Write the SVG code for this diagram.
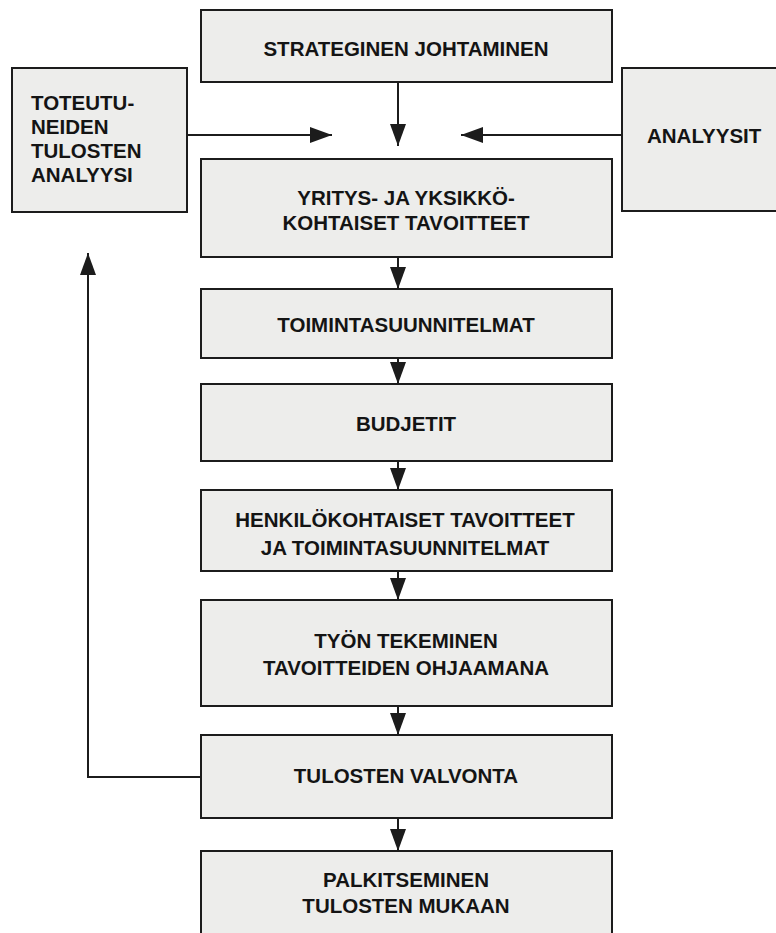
<svg xmlns="http://www.w3.org/2000/svg" width="776" height="933" viewBox="0 0 776 933">
<defs>
<style>
.box{fill:#ededeb;stroke:#1c1c1c;stroke-width:2}
.t{font-family:"Liberation Sans",Arial,sans-serif;font-weight:bold;font-size:20.5px;fill:#141414}
.c{text-anchor:middle}
.ln{fill:none;stroke:#1c1c1c;stroke-width:2}
</style>
<marker id="ah" markerUnits="userSpaceOnUse" markerWidth="22" markerHeight="16" refX="22" refY="8" orient="auto" viewBox="0 0 22 16">
<path d="M0,0 L22,8 L0,16 z" fill="#1c1c1c"/>
</marker>
</defs>
<rect width="776" height="933" fill="#ffffff"/>
<g id="connectors">
<line class="ln" x1="398" y1="82" x2="398" y2="146" marker-end="url(#ah)"/>
<line class="ln" x1="187" y1="135" x2="332" y2="135" marker-end="url(#ah)"/>
<line class="ln" x1="622" y1="135" x2="461" y2="135" marker-end="url(#ah)"/>
<line class="ln" x1="398" y1="257" x2="398" y2="289" marker-end="url(#ah)"/>
<line class="ln" x1="398" y1="358" x2="398" y2="384" marker-end="url(#ah)"/>
<line class="ln" x1="398" y1="461" x2="398" y2="490" marker-end="url(#ah)"/>
<line class="ln" x1="398" y1="571" x2="398" y2="600" marker-end="url(#ah)"/>
<line class="ln" x1="398" y1="706" x2="398" y2="735" marker-end="url(#ah)"/>
<line class="ln" x1="398" y1="818" x2="398" y2="851" marker-end="url(#ah)"/>
<polyline class="ln" points="201,777 88,777 88,253" marker-end="url(#ah)"/>
</g>
<g id="n-strateginen">
<rect class="box" x="201" y="10" width="411" height="72"/>
<text class="t c" x="406" y="56">STRATEGINEN JOHTAMINEN</text>
</g>
<g id="n-toteutuneiden">
<rect class="box" x="12" y="68" width="175" height="144"/>
<text class="t" x="31" y="110">TOTEUTU-</text>
<text class="t" x="31" y="134">NEIDEN</text>
<text class="t" x="31" y="158">TULOSTEN</text>
<text class="t" x="31" y="182">ANALYYSI</text>
</g>
<g id="n-analyysit">
<rect class="box" x="622" y="68" width="170" height="143"/>
<text class="t" x="647" y="143">ANALYYSIT</text>
</g>
<g id="n-yritys">
<rect class="box" x="201" y="159" width="411" height="98"/>
<text class="t c" x="406" y="205">YRITYS- JA YKSIKKÖ-</text>
<text class="t c" x="406" y="230">KOHTAISET TAVOITTEET</text>
</g>
<g id="n-toimintasuunnitelmat">
<rect class="box" x="201" y="289" width="411" height="69"/>
<text class="t c" x="406" y="332">TOIMINTASUUNNITELMAT</text>
</g>
<g id="n-budjetit">
<rect class="box" x="201" y="384" width="411" height="77"/>
<text class="t c" x="406" y="431">BUDJETIT</text>
</g>
<g id="n-henkilokohtaiset">
<rect class="box" x="201" y="490" width="411" height="81"/>
<text class="t c" x="405" y="527">HENKILÖKOHTAISET TAVOITTEET</text>
<text class="t c" x="405" y="555">JA TOIMINTASUUNNITELMAT</text>
</g>
<g id="n-tyon">
<rect class="box" x="201" y="600" width="411" height="106"/>
<text class="t c" x="406" y="648">TYÖN TEKEMINEN</text>
<text class="t c" x="406" y="675">TAVOITTEIDEN OHJAAMANA</text>
</g>
<g id="n-valvonta">
<rect class="box" x="201" y="735" width="411" height="83"/>
<text class="t c" x="406" y="783">TULOSTEN VALVONTA</text>
</g>
<g id="n-palkitseminen">
<rect class="box" x="201" y="851" width="411" height="95"/>
<text class="t c" x="406" y="887">PALKITSEMINEN</text>
<text class="t c" x="406" y="913">TULOSTEN MUKAAN</text>
</g>
</svg>
